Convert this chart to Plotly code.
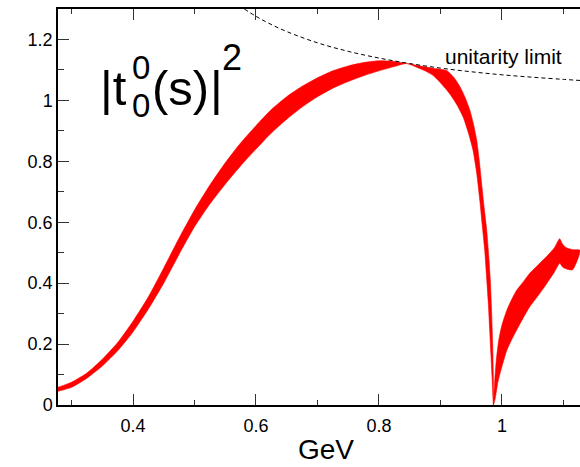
import plotly.graph_objects as go

# ---- data ----
# rising part of the band (0.28 -> 0.845 GeV)
upper1_x = [0.278, 0.30, 0.325, 0.35, 0.375, 0.40, 0.425, 0.45, 0.475, 0.50, 0.525, 0.55, 0.575, 0.60, 0.625, 0.65, 0.675, 0.70, 0.725, 0.75, 0.775, 0.80, 0.825, 0.845]
upper1_y = [0.058, 0.075, 0.105, 0.150, 0.205, 0.275, 0.355, 0.450, 0.548, 0.640, 0.722, 0.795, 0.860, 0.917, 0.970, 1.012, 1.046, 1.074, 1.097, 1.113, 1.124, 1.130, 1.128, 1.121]
lower1_x = [0.278, 0.30, 0.325, 0.35, 0.375, 0.40, 0.425, 0.45, 0.475, 0.50, 0.525, 0.55, 0.575, 0.60, 0.625, 0.65, 0.675, 0.70, 0.725, 0.75, 0.775, 0.80, 0.825, 0.845]
lower1_y = [0.045, 0.058, 0.088, 0.128, 0.178, 0.240, 0.315, 0.400, 0.495, 0.585, 0.660, 0.725, 0.785, 0.840, 0.893, 0.938, 0.978, 1.012, 1.040, 1.062, 1.081, 1.097, 1.111, 1.121]
# falling part (0.845 GeV -> dip)
upper2_x = [0.845, 0.87, 0.89, 0.91, 0.922, 0.932, 0.94, 0.948, 0.954, 0.959, 0.963, 0.967, 0.971, 0.975, 0.978, 0.981, 0.983, 0.985, 0.986, 0.9862]
upper2_y = [1.121, 1.112, 1.105, 1.098, 1.075, 1.044, 1.010, 0.967, 0.920, 0.869, 0.805, 0.727, 0.650, 0.580, 0.505, 0.415, 0.320, 0.200, 0.090, 0.0]
lower2_x = [0.845, 0.861, 0.875, 0.888, 0.90, 0.915, 0.927, 0.937, 0.946, 0.953, 0.959, 0.964, 0.968, 0.972, 0.975, 0.978, 0.980, 0.982, 0.984, 0.9862]
lower2_y = [1.121, 1.109, 1.097, 1.082, 1.058, 1.022, 0.985, 0.945, 0.890, 0.836, 0.760, 0.672, 0.590, 0.508, 0.420, 0.330, 0.250, 0.170, 0.090, 0.0]
# rising branch after the dip
upper3_x = [0.9862, 0.988, 0.991, 0.995, 1.0, 1.008, 1.016, 1.024, 1.035, 1.045, 1.06, 1.073, 1.085, 1.094, 1.098, 1.104, 1.115, 1.127]
upper3_y = [0.0, 0.070, 0.150, 0.215, 0.262, 0.311, 0.347, 0.377, 0.405, 0.432, 0.462, 0.488, 0.515, 0.546, 0.530, 0.517, 0.510, 0.508]
lower3_x = [0.9862, 0.989, 0.993, 0.997, 1.002, 1.008, 1.016, 1.024, 1.035, 1.045, 1.06, 1.073, 1.085, 1.094, 1.099, 1.106, 1.115, 1.127]
lower3_y = [0.0, 0.020, 0.070, 0.104, 0.140, 0.180, 0.215, 0.246, 0.287, 0.322, 0.362, 0.399, 0.435, 0.465, 0.452, 0.446, 0.444, 0.443]
# unitarity limit (dashed)
unit_x = [0.581, 0.60, 0.62, 0.65, 0.70, 0.75, 0.80, 0.85, 0.90, 0.95, 1.00, 1.05, 1.10, 1.13]
unit_y = [1.300, 1.276, 1.254, 1.226, 1.189, 1.161, 1.139, 1.121, 1.106, 1.094, 1.084, 1.076, 1.069, 1.065]

x_ticks = [0.4, 0.6, 0.8, 1.0]
x_ticklabels = ["0.4", "0.6", "0.8", "1"]
y_ticks = [0, 0.2, 0.4, 0.6, 0.8, 1.0, 1.2]
y_ticklabels = ["0", "0.2", "0.4", "0.6", "0.8", "1", "1.2"]

W, H = 580, 467
L, R, T, B = 58, 0, 9, 62
PW, PH = W - L - R, H - T - B


def px(x):
    return (x - L) / PW


def py(y):
    return (H - B - y) / PH


RED = "#ff0000"
fig = go.Figure()


def band(xs, ys):
    return go.Scatter(x=xs, y=ys, mode="lines", fill="toself", fillcolor=RED,
                      line=dict(color=RED, width=0.6, shape="spline", smoothing=0.6),
                      hoverinfo="skip", showlegend=False)


# rising part and falling part as one closed outline
fig.add_trace(band(upper1_x + upper2_x[1:] + lower2_x[::-1][1:] + lower1_x[::-1][1:],
                   upper1_y + upper2_y[1:] + lower2_y[::-1][1:] + lower1_y[::-1][1:]))
# branch after the dip
fig.add_trace(band(upper3_x + lower3_x[::-1][1:], upper3_y + lower3_y[::-1][1:]))
fig.add_trace(go.Scatter(x=unit_x, y=unit_y, mode="lines",
                         line=dict(color="black", width=1, dash="4px,3px", shape="spline"),
                         hoverinfo="skip", showlegend=False))

FONT = "Liberation Sans, Arial, sans-serif"
axis_common = dict(showgrid=False, zeroline=False, showline=True, linecolor="black",
                   linewidth=1.5, ticks="inside", ticklen=11, tickwidth=1,
                   tickcolor="#333", tickfont=dict(family=FONT, size=18, color="black"),
                   automargin=False)

fig.update_xaxes(range=[0.278, 1.127], tickvals=x_ticks, ticktext=x_ticklabels,
                 mirror="ticks", ticklabelstandoff=4,
                 minor=dict(dtick=0.1, tick0=0, ticks="inside", ticklen=5, tickcolor="#333", tickwidth=1),
                 **axis_common)
fig.update_yaxes(range=[0, 1.3], tickvals=y_ticks, ticktext=y_ticklabels,
                 mirror=False,
                 minor=dict(dtick=0.1, tick0=0, ticks="inside", ticklen=6, tickcolor="#333", tickwidth=1),
                 **axis_common)

ann = []
big = 49
small = 33
ann.append(dict(text="|t", x=px(98), y=py(88), xanchor="left", yanchor="middle",
                font=dict(family=FONT, size=big, color="black")))
ann.append(dict(text="0", x=px(130), y=py(67), xanchor="left", yanchor="middle",
                font=dict(family=FONT, size=small, color="black")))
ann.append(dict(text="0", x=px(130), y=py(105), xanchor="left", yanchor="middle",
                font=dict(family=FONT, size=small, color="black")))
ann.append(dict(text="(s)", x=px(150), y=py(88), xanchor="left", yanchor="middle",
                font=dict(family=FONT, size=big, color="black")))
ann.append(dict(text="|", x=px(208), y=py(88), xanchor="left", yanchor="middle",
                font=dict(family=FONT, size=big, color="black")))
ann.append(dict(text="2", x=px(220), y=py(57), xanchor="left", yanchor="middle",
                font=dict(family=FONT, size=36, color="black")))
ann.append(dict(text="unitarity limit", x=px(503), y=py(56), xanchor="center", yanchor="middle",
                font=dict(family=FONT, size=21, color="black")))
ann.append(dict(text="GeV", x=px(326), y=py(450), xanchor="center", yanchor="middle",
                font=dict(family=FONT, size=28, color="black")))
for a in ann:
    a.update(xref="paper", yref="paper", showarrow=False)

fig.update_layout(width=W, height=H, margin=dict(l=L, r=R, t=T, b=B, autoexpand=False),
                  paper_bgcolor="white", plot_bgcolor="white",
                  annotations=ann, showlegend=False)

fig.write_html("out.html", config={"displayModeBar": False},
               post_script="document.body.style.margin='0px';")
